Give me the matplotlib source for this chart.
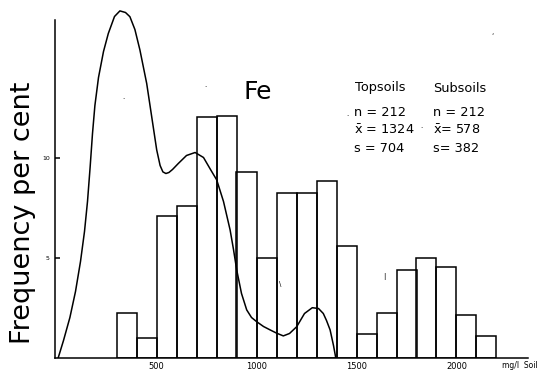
import matplotlib
matplotlib.use("Agg")
import matplotlib.pyplot as plt

plt.rcParams["font.family"] = ["DejaVu Sans"]
plt.rcParams["mathtext.fontset"] = "dejavusans"

# Histogram of subsoil Fe classes (mg/l, 100 mg/l wide), frequency in per cent
bin_left = [300, 400, 500, 600, 700, 800, 900, 1000, 1100, 1200, 1300,
            1400, 1500, 1600, 1700, 1800, 1900, 2000, 2100]
bin_freq = [2.25, 1.0, 7.1, 7.6, 12.05, 12.1, 9.3, 5.0, 8.25, 8.25, 8.85,
            5.6, 1.2, 2.25, 4.4, 5.0, 4.55, 2.15, 1.1]
bin_width = 100

# Frequency curve for topsoils
curve_x = [9, 35, 67, 95, 120, 140, 155, 168, 180, 192, 210, 235, 259, 290,
           317, 345, 367, 392, 417, 451, 476, 501, 518, 532, 547, 562, 580,
           609, 650, 693, 735, 770, 801, 835, 868, 885, 901, 925, 951, 975,
           1001, 1035, 1068, 1100, 1134, 1165, 1201, 1240, 1279, 1310, 1334,
           1350, 1368, 1385, 1396]
curve_y = [0.0, 0.85, 2.0, 3.3, 4.8, 6.3, 7.8, 9.5, 11.2, 12.6, 14.0, 15.3,
           16.2, 17.05, 17.33, 17.25, 17.04, 16.4, 15.38, 13.7, 12.04, 10.38,
           9.6, 9.28, 9.2, 9.25, 9.4, 9.7, 10.1, 10.25, 10.0, 9.4, 8.88, 7.8,
           6.38, 5.4, 4.38, 3.2, 2.38, 2.0, 1.79, 1.55, 1.38, 1.22, 1.08, 1.2,
           1.54, 2.2, 2.49, 2.45, 2.2, 1.85, 1.38, 0.6, 0.0]

x_ticks = [500, 1000, 1500, 2000]
y_ticks = [5, 10]

title = "Fe"
col_heads = ["Topsoils", "Subsoils"]
top_stats = ["n = 212", r"$\bar{\mathrm{x}}$ = 1324", "s = 704"]
sub_stats = ["n = 212", r"$\bar{\mathrm{x}}$= 578", "s= 382"]

W, H = 539, 372
fig = plt.figure(figsize=(W / 100, H / 100), dpi=100)
ax = fig.add_axes([54.5 / W, (H - 357.5) / H, 473.5 / W, 352.5 / H])

lw = 1.1
ax.bar(bin_left, bin_freq, width=bin_width, align="edge", fill=False,
       edgecolor="black", linewidth=lw, zorder=2)
ax.plot(curve_x, curve_y, color="black", linewidth=lw, zorder=3,
        solid_joinstyle="round")

ax.set_xlim(-10, 2357.5)
ax.set_ylim(0, 17.625)

for side in ("top", "right"):
    ax.spines[side].set_visible(False)
ax.spines["left"].set_bounds(0, 16.9)
ax.spines["left"].set_linewidth(lw)
ax.spines["bottom"].set_linewidth(lw)

ax.set_xticks(x_ticks)
ax.set_xticklabels([str(v) for v in x_ticks])
ax.tick_params(axis="x", length=0, pad=3.0, labelsize=6)
ax.set_yticks(y_ticks)
ax.set_yticklabels([str(v) for v in y_ticks])
ax.tick_params(axis="y", direction="in", length=3.5, width=lw, pad=3.5,
               labelsize=4.5)

def px(x, y):
    return x / W, 1 - y / H

fig.text(*px(23, 213), "Frequency per cent", rotation=90, fontsize=19.5,
         ha="center", va="center")
fig.text(*px(244, 99), title, fontsize=18, ha="left", va="baseline")

fig.text(*px(355, 91.5), col_heads[0], fontsize=9.3, ha="left", va="baseline")
fig.text(*px(433, 91.5), col_heads[1], fontsize=9.3, ha="left", va="baseline")
for i, base in enumerate([116, 134, 152]):
    fig.text(*px(354, base), top_stats[i], fontsize=9.3, ha="left",
             va="baseline")
    fig.text(*px(433, base), sub_stats[i], fontsize=9.3, ha="left",
             va="baseline")

fig.text(*px(502, 365), "mg/l  Soil", fontsize=5.5, ha="left", va="center")

# small specks on the sheet
for (sx, sy, ch) in [(347, 114, "."), (123, 97, "."), (205, 85, "."),
                     (421, 128, "·"), (493, 32, ","), (280, 284, "\\"),
                     (384, 276, "|")]:
    fig.text(*px(sx, sy), ch, fontsize=5, ha="center", va="center")

fig.savefig("out.png", dpi=100)
